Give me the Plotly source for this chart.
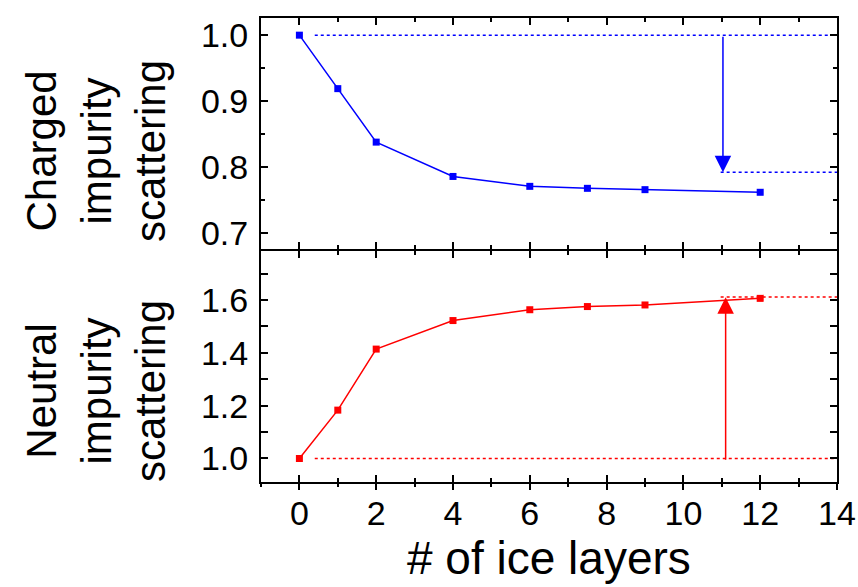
import plotly.graph_objects as go

# ---- data ----
layers = [0, 1, 2, 4, 6, 7.5, 9, 12]
charged = [1.0, 0.919, 0.838, 0.786, 0.771, 0.768, 0.766, 0.762]
neutral = [1.0, 1.183, 1.414, 1.522, 1.563, 1.575, 1.581, 1.606]

# reference (dotted) lines
charged_ref_hi_x = [0.4, 14]
charged_ref_hi_y = [1.0, 1.0]
charged_ref_lo_x = [10.97, 14]
charged_ref_lo_y = [0.7925, 0.7925]
neutral_ref_lo_x = [0.4, 14]
neutral_ref_lo_y = [1.0, 1.0]
neutral_ref_hi_x = [10.97, 14]
neutral_ref_hi_y = [1.611, 1.611]

# arrows (start -> end)
charged_arrow = dict(x=11.03, y0=1.0, y1=0.7925)
neutral_arrow = dict(x=11.1, y0=0.99, y1=1.61)

x_ticks = [0, 2, 4, 6, 8, 10, 12, 14]
top_y_ticks = [0.7, 0.8, 0.9, 1.0]
bot_y_ticks = [1.0, 1.2, 1.4, 1.6]

BLUE = "#0000FF"
RED = "#FF0000"
FONT = "Liberation Sans, Arial, sans-serif"

fig = go.Figure()

fig.add_trace(go.Scatter(x=charged_ref_hi_x, y=charged_ref_hi_y, mode="lines",
                         line=dict(color=BLUE, width=1.5, dash="dot"),
                         xaxis="x", yaxis="y", showlegend=False))
fig.add_trace(go.Scatter(x=charged_ref_lo_x, y=charged_ref_lo_y, mode="lines",
                         line=dict(color=BLUE, width=1.5, dash="dot"),
                         xaxis="x", yaxis="y", showlegend=False))
fig.add_trace(go.Scatter(x=layers, y=charged, mode="lines+markers",
                         line=dict(color=BLUE, width=1.5),
                         marker=dict(symbol="square", size=7, color=BLUE),
                         xaxis="x", yaxis="y", showlegend=False))

fig.add_trace(go.Scatter(x=neutral_ref_lo_x, y=neutral_ref_lo_y, mode="lines",
                         line=dict(color=RED, width=1.5, dash="dot"),
                         xaxis="x2", yaxis="y2", showlegend=False))
fig.add_trace(go.Scatter(x=neutral_ref_hi_x, y=neutral_ref_hi_y, mode="lines",
                         line=dict(color=RED, width=1.5, dash="dot"),
                         xaxis="x2", yaxis="y2", showlegend=False))
fig.add_trace(go.Scatter(x=layers, y=neutral, mode="lines+markers",
                         line=dict(color=RED, width=1.5),
                         marker=dict(symbol="square", size=7, color=RED),
                         xaxis="x2", yaxis="y2", showlegend=False))

# invisible trace for the overlay axis
fig.add_trace(go.Scatter(x=[0], y=[1.0], mode="markers", marker=dict(opacity=0),
                         xaxis="x3", yaxis="y2", showlegend=False, hoverinfo="skip"))

XR = [-1, 14]
common_axis = dict(showline=True, linecolor="black", linewidth=2, showgrid=False,
                   zeroline=False, ticks="inside", ticklen=7, tickwidth=2,
                   tickcolor="black", mirror="allticks", automargin=False,
                   tickfont=dict(family=FONT, size=34, color="black"))

fig.update_layout(
    width=858, height=587,
    margin=dict(l=261, r=21, t=18, b=105),
    paper_bgcolor="white", plot_bgcolor="white",
    xaxis=dict(common_axis, range=XR, domain=[0, 1], anchor="y",
               tickvals=x_ticks, showticklabels=False,
               minor=dict(dtick=1, tick0=0, ticks="inside", ticklen=4, tickwidth=2, tickcolor="black")),
    yaxis=dict(common_axis, range=[0.676, 1.026], domain=[0.502, 1], anchor="x",
               tickvals=top_y_ticks, ticktext=[f"{v:.1f}" for v in top_y_ticks],
               ticklabelstandoff=4,
               minor=dict(dtick=0.05, tick0=0.7, ticks="inside", ticklen=4, tickwidth=2, tickcolor="black")),
    xaxis2=dict(common_axis, range=XR, domain=[0, 1], anchor="y2",
                tickvals=x_ticks, showticklabels=True,
                minor=dict(dtick=1, tick0=0, ticks="inside", ticklen=4, tickwidth=2, tickcolor="black")),
    yaxis2=dict(common_axis, range=[0.911, 1.785], domain=[0, 0.4977], anchor="x2",
                tickvals=bot_y_ticks, ticktext=[f"{v:.1f}" for v in bot_y_ticks],
                ticklabelstandoff=4,
                minor=dict(dtick=0.1, tick0=0.9, ticks="inside", ticklen=4, tickwidth=2, tickcolor="black")),
    xaxis3=dict(range=XR, overlaying="x2", anchor="y2", side="bottom", automargin=False,
                showline=False, showgrid=False, zeroline=False,
                ticks="outside", ticklen=7, tickwidth=2, tickcolor="black",
                tickvals=x_ticks, showticklabels=False,
                minor=dict(dtick=1, tick0=0, ticks="outside", ticklen=4, tickwidth=2, tickcolor="black")),
)

annotations = [
    dict(x=charged_arrow["x"], y=charged_arrow["y1"], ax=charged_arrow["x"], ay=charged_arrow["y0"],
         xref="x", yref="y", axref="x", ayref="y", showarrow=True, text="",
         arrowhead=2, arrowsize=2.2, arrowwidth=1.5, arrowcolor=BLUE, standoff=0, startstandoff=0),
    dict(x=neutral_arrow["x"], y=neutral_arrow["y1"], ax=neutral_arrow["x"], ay=neutral_arrow["y0"],
         xref="x2", yref="y2", axref="x2", ayref="y2", showarrow=True, text="",
         arrowhead=2, arrowsize=2.2, arrowwidth=1.5, arrowcolor=RED, standoff=0, startstandoff=0),
    dict(text="Charged<br>impurity<br>scattering", textangle=-90, showarrow=False,
         xref="paper", yref="paper", x=(96 - 261) / 576, y=(482 - 151) / 464,
         xanchor="center", yanchor="middle", align="center",
         font=dict(family=FONT, size=42, color="black")),
    dict(text="Neutral<br>impurity<br>scattering", textangle=-90, showarrow=False,
         xref="paper", yref="paper", x=(96 - 261) / 576, y=(482 - 391) / 464,
         xanchor="center", yanchor="middle", align="center",
         font=dict(family=FONT, size=42, color="black")),
    dict(text="# of ice layers", showarrow=False,
         xref="paper", yref="paper", x=0.5, y=(482 - 558) / 464,
         xanchor="center", yanchor="middle",
         font=dict(family=FONT, size=46, color="black")),
]
fig.update_layout(annotations=annotations)

fig.write_html("out.html", config={"displayModeBar": False},
               post_script="document.body.style.margin='0';document.body.style.overflow='hidden';")
